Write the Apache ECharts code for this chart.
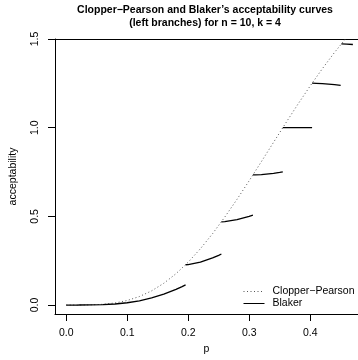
<!DOCTYPE html>
<html>
<head>
<meta charset="utf-8">
<script src="https://cdn.jsdelivr.net/npm/echarts@6/dist/echarts.min.js"></script>
<style>
  html, body { margin: 0; padding: 0; background: #fff; }
  #chart { width: 358px; height: 360px; }
</style>
</head>
<body>
<div id="chart"></div>
<script>
// Clopper-Pearson acceptability (left branch), n = 10, k = 4
var cpP = [0, 0.02, 0.04, 0.06, 0.08, 0.10, 0.12, 0.14, 0.16, 0.18, 0.20, 0.22, 0.24,
           0.26, 0.28, 0.30, 0.32, 0.34, 0.36, 0.38, 0.40, 0.42, 0.44, 0.46, 0.47];
var cpValues = [0, 0.00006, 0.00088, 0.0041, 0.0116, 0.0256, 0.0479, 0.0799, 0.1227, 0.1766,
                0.2417, 0.3174, 0.4025, 0.4961, 0.5959, 0.7008, 0.8087, 0.9178, 1.0265,
                1.1329, 1.2354, 1.3328, 1.4247, 1.5094, 1.5488];

// Blaker acceptability (left branch), one piece between successive jumps
var blakerP0 = [0, 0.02, 0.04, 0.06, 0.08, 0.10, 0.12, 0.14, 0.16, 0.18, 0.19, 0.1957];
var blakerV0 = [0, 0.00003, 0.00044, 0.00203, 0.0058, 0.0128, 0.02395, 0.03995, 0.06136, 0.08832, 0.10394, 0.1136];
var blakerP1 = [0.1957, 0.20, 0.22, 0.24, 0.25, 0.2544];
var blakerV1 = [0.2272, 0.2282, 0.2420, 0.2656, 0.2804, 0.2878];
var blakerP2 = [0.2544, 0.26, 0.28, 0.30, 0.3061];
var blakerV2 = [0.4691, 0.4703, 0.4810, 0.4997, 0.5070];
var blakerP3 = [0.3061, 0.31, 0.32, 0.34, 0.35, 0.3551];
var blakerV3 = [0.7335, 0.7338, 0.7356, 0.7427, 0.7478, 0.7509];
var blakerP4 = [0.3551, 0.4031];
var blakerV4 = [1.0, 1.0];
var blakerP5 = [0.4031, 0.41, 0.42, 0.43, 0.44, 0.45, 0.4511];
var blakerV5 = [1.2508, 1.2502, 1.2486, 1.2461, 1.2428, 1.2384, 1.2378];
var blakerP6 = [0.4511, 0.46, 0.47];
var blakerV6 = [1.4723, 1.4715, 1.4689];

var xTicks = [0, 0.1, 0.2, 0.3, 0.4];
var yTicks = [0, 0.5, 1.0, 1.5];

var CP_NAME = 'Clopper\u2212Pearson';
var BLAKER_NAME = 'Blaker';

function pairs(xs, ys) {
  return xs.map(function (x, i) { return [x, ys[i]]; });
}

var FONT = 'Liberation Sans, Arial, Helvetica, sans-serif';

var blakerPieces = [
  [blakerP0, blakerV0], [blakerP1, blakerV1], [blakerP2, blakerV2], [blakerP3, blakerV3],
  [blakerP4, blakerV4], [blakerP5, blakerV5], [blakerP6, blakerV6]
];

// each Blaker piece is its own series; they share one legend entry
var blakerSeries = blakerPieces.map(function (piece) {
  return {
    name: BLAKER_NAME,
    type: 'line',
    data: pairs(piece[0], piece[1]),
    showSymbol: false,
    symbol: 'none',
    clip: true,
    lineStyle: { color: '#000', width: 1.3 },
    itemStyle: { color: '#000' }
  };
});

var chart = echarts.init(document.getElementById('chart'), null, { renderer: 'canvas' });
chart.setOption({
  animation: false,
  backgroundColor: '#ffffff',
  title: {
    text: 'Clopper\u2212Pearson and Blaker\u2019s acceptability curves\n(left branches) for n = 10, k = 4',
    left: 205,
    top: 3,
    textAlign: 'center',
    padding: 0,
    textStyle: {
      fontFamily: FONT, fontSize: 10.5, fontWeight: 'bold', color: '#000', lineHeight: 13.5
    }
  },
  legend: {
    orient: 'vertical',
    left: 243,
    top: 286,
    padding: 0,
    itemGap: 1,
    itemWidth: 21,
    itemHeight: 10,
    itemStyle: { opacity: 0 },
    lineStyle: { width: 1 },
    textStyle: { fontFamily: FONT, fontSize: 10.5, color: '#000', padding: [0, 0, 0, 3] },
    data: [CP_NAME, BLAKER_NAME]
  },
  grid: {
    left: 49, top: 39, right: -9, bottom: 45
  },
  xAxis: [
    {
      type: 'value',
      position: 'bottom',
      min: -0.0184, max: 0.4784,
      name: 'p', nameLocation: 'middle', nameGap: 30,
      nameTextStyle: { fontFamily: FONT, fontSize: 10.5, color: '#000' },
      axisLine: { show: true, onZero: false, lineStyle: { color: '#000', width: 1 } },
      splitLine: { show: false },
      axisTick: { show: true, length: 7, inside: false, customValues: xTicks, lineStyle: { color: '#000', width: 1 } },
      axisLabel: {
        customValues: xTicks, margin: 14,
        fontFamily: FONT, fontSize: 10.5, color: '#000',
        formatter: function (v) { return v.toFixed(1); }
      }
    },
    {
      // top edge of the plot frame
      type: 'value',
      position: 'top',
      min: -0.0184, max: 0.4784,
      axisLine: { show: true, onZero: false, lineStyle: { color: '#000', width: 1 } },
      axisTick: { show: false },
      axisLabel: { show: false },
      splitLine: { show: false }
    }
  ],
  yAxis: {
    type: 'value',
    min: -0.0506, max: 1.5,
    name: 'acceptability', nameLocation: 'middle', nameGap: 36, nameRotate: 90,
    nameTextStyle: { fontFamily: FONT, fontSize: 10.5, color: '#000' },
    axisLine: { show: true, onZero: false, lineStyle: { color: '#000', width: 1 } },
    splitLine: { show: false },
    axisTick: { show: true, length: 7, inside: false, customValues: yTicks, lineStyle: { color: '#000', width: 1 } },
    axisLabel: {
      customValues: yTicks, margin: 14, rotate: 90,
      fontFamily: FONT, fontSize: 10.5, color: '#000',
      formatter: function (v) { return v.toFixed(1); }
    }
  },
  series: [
    {
      name: CP_NAME,
      type: 'line',
      data: pairs(cpP, cpValues),
      showSymbol: false,
      symbol: 'none',
      clip: true,
      lineStyle: { color: '#555', width: 1, type: [1, 2.5] },
      itemStyle: { color: '#555' }
    }
  ].concat(blakerSeries)
});
</script>
</body>
</html>
